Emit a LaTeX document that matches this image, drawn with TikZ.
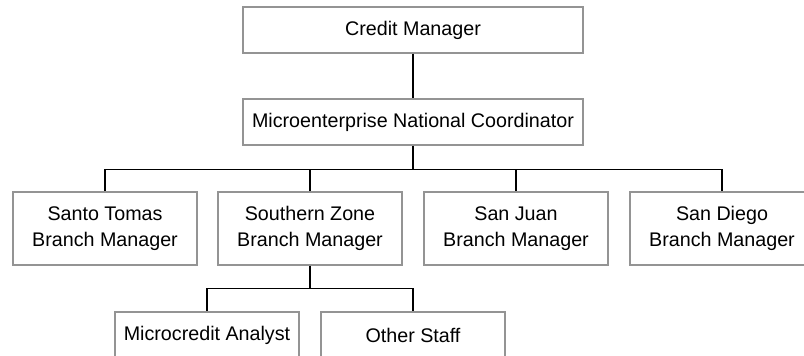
\documentclass[tikz,border=0pt]{standalone}
\usepackage{fontspec}
\setmainfont{Liberation Sans}
\usepackage{tikz}
\usetikzlibrary{positioning}

\tikzset{
  post/.style={draw=black!42,line width=1.1pt,fill=white,inner sep=0pt,
    align=center,font=\fontsize{19.7}{26}\selectfont},
  toppost/.style={post,minimum width=340pt,minimum height=46pt},
  branchpost/.style={post,minimum width=184pt,minimum height=73pt},
  staffpost/.style={post,minimum width=184pt,minimum height=46pt},
  link/.style={line width=1.5pt,line join=miter}
}

\begin{document}
\begin{tikzpicture}[x=1pt,y=1pt]
 \useasboundingbox (0,0) rectangle (804,-356);
 \clip (0,0) rectangle (804,-356);
 % top of the chart
 \node[toppost] (credit) at (413,-30) {Credit Manager};
 \node[toppost] (coord) at (413,-122) {Microenterprise National Coordinator};
 % branches
 \node[branchpost] (santo) at (105,-228.5) {Santo Tomas\\Branch Manager};
 \node[branchpost] (south) at (310,-228.5) {Southern Zone\\Branch Manager};
 \node[branchpost] (juan) at (516,-228.5) {San Juan\\Branch Manager};
 \node[branchpost] (diego) at (722,-228.5) {San Diego\\Branch Manager};
 % staff under the southern zone
 \node[staffpost] (analyst) at (207,-335) {Microcredit Analyst};
 \node[staffpost] (staff) at (413,-335) {Other Staff};

 \draw[link] (credit) -- (coord);
 \draw[link] (coord.south) -- ++(0,-24) coordinate (bus);
 \foreach \b in {santo,south,juan,diego}
  \draw[link] (bus) -| (\b.north);
 \draw[link] (south.south) -- ++(0,-23) coordinate (subbus);
 \foreach \b in {analyst,staff}
  \draw[link] (subbus) -| (\b.north);
\end{tikzpicture}
\end{document}
